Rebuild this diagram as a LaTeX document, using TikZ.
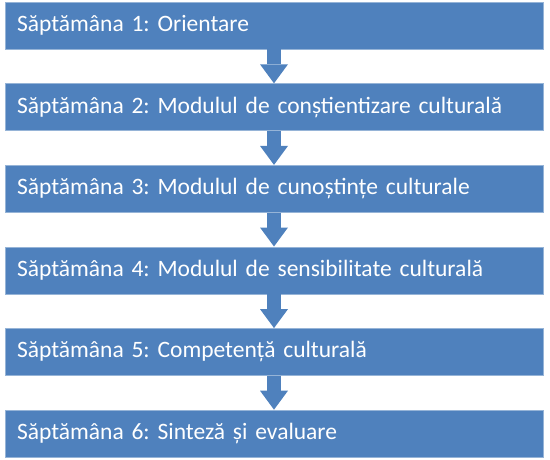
\documentclass[tikz,border=0pt]{standalone}
\usepackage{fontspec}
\setmainfont{Carlito}[WordSpace=0.6]
\usetikzlibrary{positioning,arrows.meta}
\definecolor{weekblue}{RGB}{79,129,189}
\definecolor{weekedge}{RGB}{150,180,215}
\tikzset{
week/.style={fill=weekblue, draw=weekedge, line width=0.6pt, text=white,
  minimum height=47pt, text width=514pt, inner xsep=12pt, align=left,
  font=\fontsize{23.5}{28}\selectfont\frenchspacing},
weekarrow/.style={draw=weekblue, line width=14pt,
  -{Triangle[width=28pt,length=19pt,line width=0pt 0]}}
}

\begin{document}
\begin{tikzpicture}[x=1pt,y=1pt,node distance=34pt]
\useasboundingbox (0,0) rectangle (550,-459);
\node[week] (w1) at (274,-25.5) {Săptămâna 1: Orientare};
\node[week, below=of w1] (w2) {Săptămâna 2: Modulul de conștientizare culturală};
\node[week, below=of w2] (w3) {Săptămâna 3: Modulul de cunoștințe culturale};
\node[week, below=of w3] (w4) {Săptămâna 4: Modulul de sensibilitate culturală};
\node[week, below=of w4] (w5) {Săptămâna 5: Competență culturală};
\node[week, below=of w5] (w6) {Săptămâna 6: Sinteză și evaluare};
\foreach \a/\b in {w1/w2,w2/w3,w3/w4,w4/w5,w5/w6}
  \draw[weekarrow] (\a) -- (\b);
\end{tikzpicture}
\end{document}
